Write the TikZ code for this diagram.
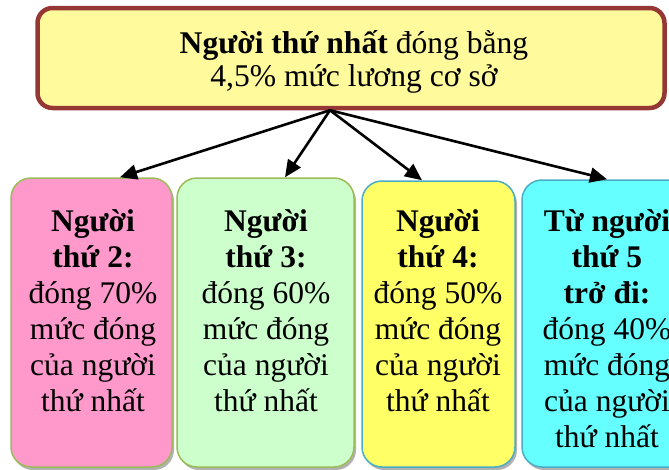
\documentclass[tikz,border=0pt]{standalone}
\usepackage{fontspec}
\setmainfont{Liberation Serif}
\usetikzlibrary{arrows.meta,calc}
\definecolor{topfill}{HTML}{FFFA9C}
\definecolor{topdraw}{HTML}{953735}
\definecolor{pinkfill}{HTML}{FF99CC}
\definecolor{greenfill}{HTML}{CCFFCC}
\definecolor{yellowfill}{HTML}{FFFF66}
\definecolor{cyanfill}{HTML}{66FFFF}
\definecolor{greendraw}{HTML}{9BBB59}
\definecolor{bluedraw}{HTML}{4BACC6}
\begin{document}
\begin{tikzpicture}[x=1pt,y=-1pt,
  topbox/.style={draw=topdraw, fill=topfill, line width=4.5pt, rounded corners=15pt,
    inner sep=0pt, minimum width=627pt, minimum height=100pt},
  subbox/.style={line width=1.5pt, rounded corners=20pt, inner sep=0pt,
    preaction={fill=black!30, transform canvas={shift={(2pt,-3pt)}}}},
  toptxt/.style={anchor=base, align=center, inner sep=0pt, font=\fontsize{31.6}{33}\selectfont},
  subtxt/.style={anchor=base, align=center, inner sep=0pt, font=\fontsize{31.5}{36}\selectfont},
  conn/.style={line width=2.6pt, -{Triangle[length=17pt,width=15pt]}}
]
\useasboundingbox (0,0) rectangle (669,469);

\node[topbox] (top) at (351,58) {};
\node[toptxt] (toptext) at (354,86) {\textbf{Người thứ nhất} đóng bằng\\4,5\% mức lương cơ sở};

\node[subbox, draw=greendraw, fill=pinkfill, minimum width=161pt, minimum height=289pt] (b1) at (91.5,322.5) {};
\node[subbox, draw=greendraw, fill=greenfill, minimum width=177pt, minimum height=289pt] (b2) at (265.5,322.5) {};
\node[subbox, draw=bluedraw, fill=yellowfill, minimum width=153pt, minimum height=286pt] (b3) at (438.5,324) {};
\node[subbox, draw=bluedraw, fill=cyanfill, minimum width=170pt, minimum height=287pt] (b4) at (607,323.5) {};

\node[subtxt] (t1) at (93,411) {\textbf{Người}\\\textbf{thứ 2:}\\đóng 70\%\\mức đóng\\của người\\thứ nhất};
\node[subtxt] (t2) at (266,411) {\textbf{Người}\\\textbf{thứ 3:}\\đóng 60\%\\mức đóng\\của người\\thứ nhất};
\node[subtxt] (t3) at (438,411) {\textbf{Người}\\\textbf{thứ 4:}\\đóng 50\%\\mức đóng\\của người\\thứ nhất};
\node[subtxt] (t4) at (607,447) {\textbf{Từ người}\\\textbf{thứ 5}\\\textbf{trở đi:}\\đóng 40\%\\mức đóng\\của người\\thứ nhất};

\coordinate (src) at ($(top.south)+(-21,0)$);
\draw[conn] (src) -- ($(b1.north)+(28.5,0)$);
\draw[conn] (src) -- ($(b2.north)+(19.5,0)$);
\draw[conn] (src) -- ($(b3.north)+(-16.5,0)$);
\draw[conn] (src) -- (b4.north);
\end{tikzpicture}
\end{document}
